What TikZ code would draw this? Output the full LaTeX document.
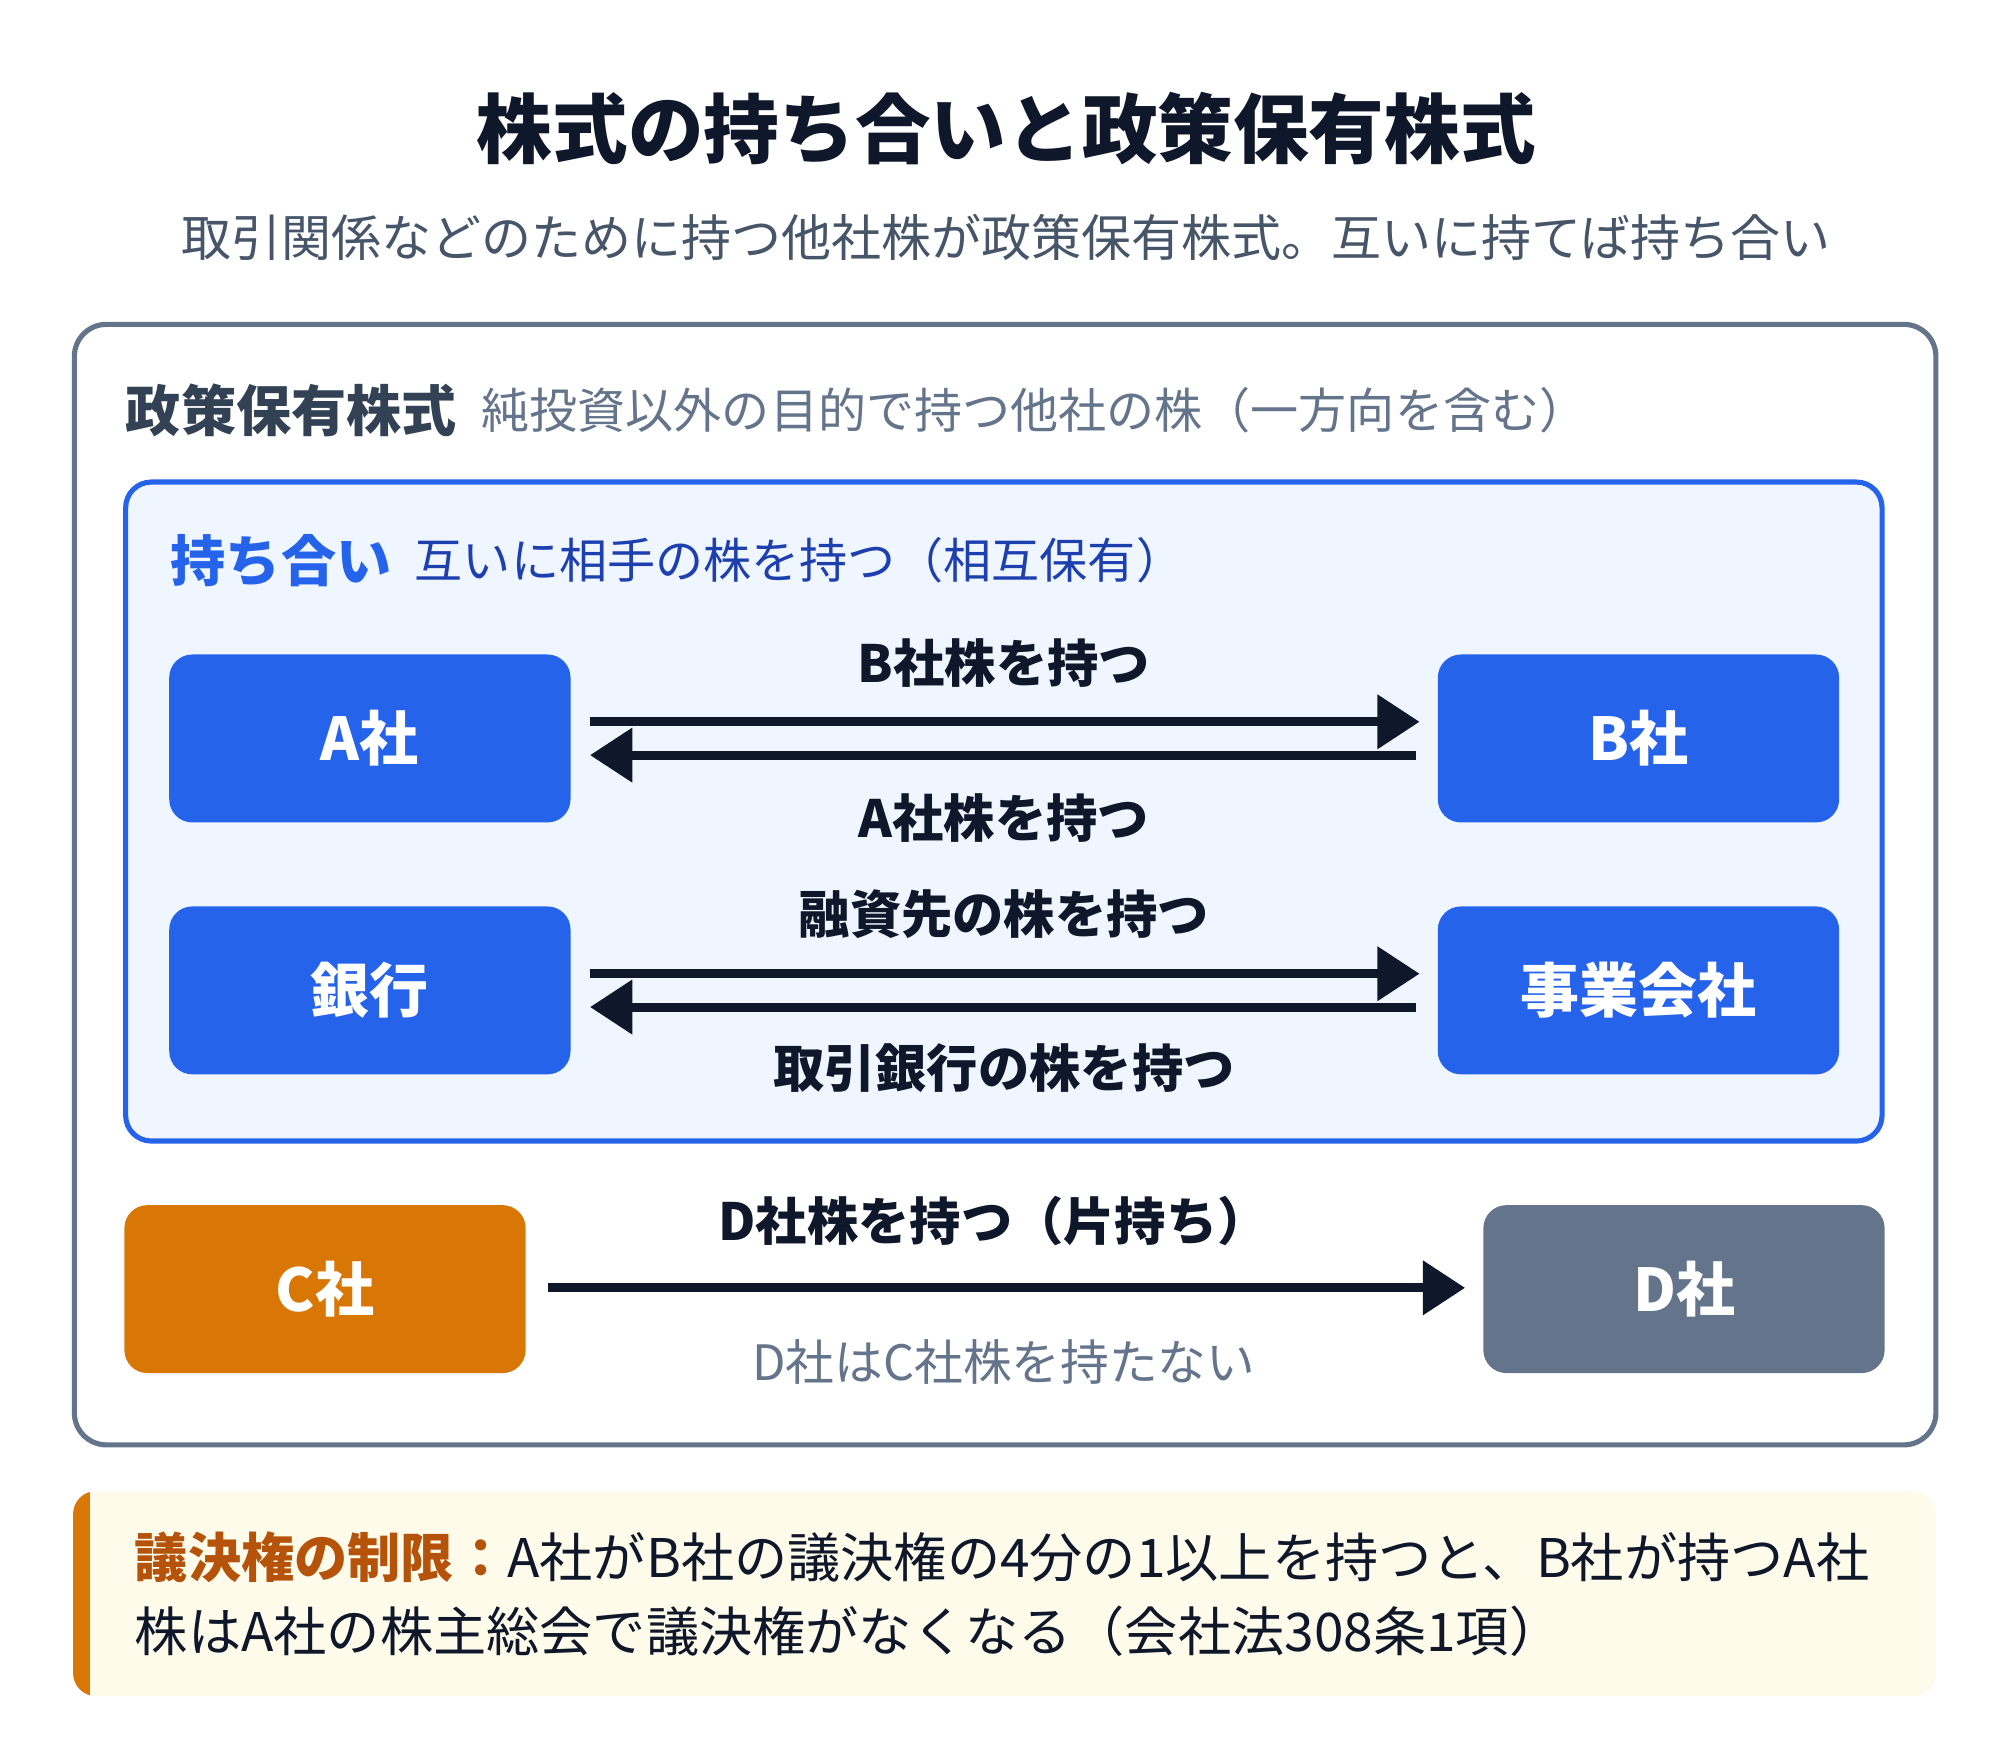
\documentclass[tikz,border=0pt]{standalone}
\usepackage{fontspec}
\setmainfont{Noto Sans CJK JP}
\usetikzlibrary{arrows.meta}
\definecolor{ink}{HTML}{0F172A}
\definecolor{subg}{HTML}{475569}
\definecolor{slate}{HTML}{64748B}
\definecolor{slated}{HTML}{334155}
\definecolor{blue1}{HTML}{2563EB}
\definecolor{blue2}{HTML}{1E40AF}
\definecolor{bluebg}{HTML}{EFF6FF}
\definecolor{orng}{HTML}{D97706}
\definecolor{orngd}{HTML}{B45309}
\definecolor{cream}{HTML}{FEFBEB}
\newcommand{\fs}[1]{\fontsize{#1}{#1}\selectfont}
\tikzset{
  co/.style={rounded corners=18pt, minimum width=313pt, minimum height=131pt, inner sep=0pt, text=white, font=\fs{46}\bfseries},
  lbl/.style={inner sep=0pt, text=ink, font=\fs{40}\bfseries},
  arr/.style={draw=ink, line width=7pt, -{Triangle[length=33pt,width=41pt]}},
}
\begin{document}
\begin{tikzpicture}[x=1pt,y=-1pt]
\useasboundingbox (0,0) rectangle (1560,1372.8);
\fill[white] (0,0) rectangle (1560,1372.8);
% title
\node[inner sep=0pt, text=ink, font=\fs{59}\bfseries] (title) at (785,100) {株式の持ち合いと政策保有株式};
\node[inner sep=0pt, text=subg, font=\fs{39}] (sub) at (785,185) {取引関係などのために持つ他社株が政策保有株式。互いに持てば持ち合い};
% outer box
\draw[slate, line width=4pt, rounded corners=25pt, fill=white] (58,253) rectangle (1510,1127);
\node[anchor=west, inner sep=0pt, text=slated, font=\fs{43}\bfseries] (h1) at (98,320) {政策保有株式};
\node[anchor=west, inner sep=0pt, text=slate, font=\fs{37.5}] (h1b) at ([xshift=19pt]h1.east) {純投資以外の目的で持つ他社の株（一方向を含む）};
% inner box
\draw[blue1, line width=4pt, rounded corners=20pt, fill=bluebg] (98,376) rectangle (1468,890);
\node[anchor=west, inner sep=0pt, text=blue1, font=\fs{43}\bfseries] (h2) at (133,437) {持ち合い};
\node[anchor=west, inner sep=0pt, text=blue2, font=\fs{37.5}] (h2b) at ([xshift=18pt]h2.east) {互いに相手の株を持つ（相互保有）};
% companies
\node[co, fill=blue1] (A) at (288.5,576) {A社};
\node[co, fill=blue1] (B) at (1278,576) {B社};
\node[co, fill=blue1] (bank) at (288.5,772.5) {銀行};
\node[co, fill=blue1] (biz) at (1278,772.5) {事業会社};
\node[co, fill=orng] (C) at (253.5,1005.5) {C社};
\node[co, fill=slate] (D) at (1313.5,1005.5) {D社};
% arrows row 1
\draw[arr] ([xshift=15pt,yshift=13pt]A.east) -- ([xshift=-14pt,yshift=13pt]B.west);
\draw[arr] ([xshift=-17pt,yshift=-13pt]B.west) -- ([xshift=15pt,yshift=-13pt]A.east);
\node[lbl] (l1) at (783,517) {B社株を持つ};
\node[lbl] (l2) at (783,638) {A社株を持つ};
% arrows row 2
\draw[arr] ([xshift=15pt,yshift=13pt]bank.east) -- ([xshift=-14pt,yshift=13pt]biz.west);
\draw[arr] ([xshift=-17pt,yshift=-13pt]biz.west) -- ([xshift=15pt,yshift=-13pt]bank.east);
\node[lbl] (l3) at (783,713) {融資先の株を持つ};
\node[lbl] (l4) at (783,833) {取引銀行の株を持つ};
% arrow row 3
\draw[arr] ([xshift=17pt,yshift=1pt]C.east) -- ([xshift=-14pt,yshift=1pt]D.west);
\node[lbl] (l5) at (775,952) {D社株を持つ（片持ち）};
\node[inner sep=0pt, text=slate, font=\fs{38}] (l6) at (783,1062) {D社はC社株を持たない};
% note
\begin{scope}
\clip[rounded corners=18pt] (57,1163) rectangle (1510,1323);
\fill[cream] (57,1163) rectangle (1510,1323);
\fill[orng] (57,1163) rectangle (70,1323);
\end{scope}
\node[anchor=west, inner sep=0pt, text=ink, font=\fs{41.5}] (n1) at (105,1215) {{\color{orngd}\bfseries 議決権の制限：}A社がB社の議決権の4分の1以上を持つと、B社が持つA社};
\node[anchor=west, inner sep=0pt, text=ink, font=\fs{41.5}] (n2) at (105,1272) {株はA社の株主総会で議決権がなくなる（会社法308条1項）};
\end{tikzpicture}
\end{document}
